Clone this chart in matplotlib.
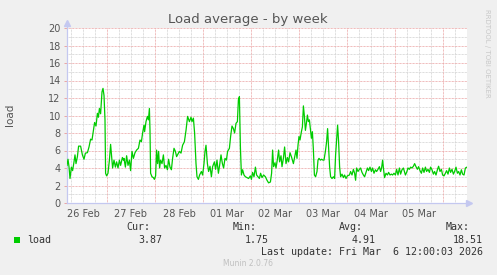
import numpy as np
import matplotlib
matplotlib.use('Agg')
import matplotlib.pyplot as plt
from matplotlib.ticker import FixedLocator, FuncFormatter
from matplotlib.lines import Line2D

# Load average samples: hours since 26 Feb 00:00, load value
hours = [4.0, 4.5, 5.0, 5.5, 6.2, 6.8, 7.5, 8.0, 8.5, 9.2, 9.8, 10.8, 11.7, 12.5, 13.2, 14.2, 15.0, 15.8,
         16.5, 17.2, 17.8, 18.5, 19.2, 19.7, 20.2, 20.8, 21.5, 22.0, 22.5, 23.0, 23.3, 23.8, 24.5, 25.2,
         25.8, 26.3, 26.8, 27.5, 28.2, 28.8, 29.5, 30.2, 30.8, 31.7, 32.2,
         32.5, 33.2, 33.8, 34.5, 35.2, 35.8, 36.5, 37.2, 38.0, 38.8, 39.7, 40.5, 41.2, 41.8, 42.5, 42.8,
         43.5, 44.2, 44.7, 45.2, 45.5, 45.8, 46.5, 47.2, 47.7, 48.3, 48.8, 49.3, 49.8, 50.3, 50.8, 51.5,
         52.2, 52.8, 53.5, 54.2, 54.8, 55.5, 56.2, 56.8, 57.5, 58.2, 58.8, 59.5,
         60.2, 61.0, 61.8, 62.7, 63.5, 64.3, 65.2, 66.0, 66.5, 67.2, 67.8, 68.5, 69.0, 69.7, 70.3, 71.2,
         71.8, 72.5, 73.0, 73.5, 74.2, 74.8, 75.5, 76.2, 76.8, 77.7, 78.3, 79.0, 79.7, 80.3, 81.0, 81.7,
         82.3, 83.0, 83.7, 84.3, 85.2, 85.8, 86.5, 87.2, 87.8, 88.5,
         89.2, 89.7, 90.2, 90.7, 91.2, 91.8, 92.5, 93.2, 94.0, 94.8, 95.7, 96.2, 96.8, 97.5, 98.2, 98.8,
         99.5, 100.2, 100.8, 101.5, 102.3, 103.2, 104.0, 104.8, 105.7, 106.3, 106.8, 107.3, 108.0, 108.5,
         109.2, 109.8, 110.3, 111.0, 111.5, 112.2, 112.8, 113.5, 114.2, 114.8, 115.5, 116.2,
         117.2, 117.8, 118.5, 119.0, 119.5, 120.0, 120.5, 121.2, 121.7, 122.2, 122.7, 123.2, 123.7, 124.2,
         124.7, 125.2, 125.7, 126.2, 126.7, 127.2, 127.7, 128.3, 129.0, 129.5, 130.0, 130.7, 131.3, 132.0,
         132.5, 133.2, 133.8, 134.3, 134.8, 135.3, 135.8, 136.5, 137.2, 137.8, 138.3, 138.8, 139.3, 139.8,
         140.3, 140.8, 141.5, 142.2, 142.8, 143.5, 144.2,
         145.2, 145.8, 146.5, 147.2, 147.8, 148.3, 148.8, 149.5, 150.2, 150.8, 151.5, 152.2, 152.8, 153.5,
         154.2, 154.8, 155.5, 156.2, 156.8, 157.5, 158.2, 158.8, 159.5, 160.2, 160.8, 161.3, 161.8, 162.3,
         162.8, 163.5, 164.2, 164.8, 165.5, 166.2, 166.8, 167.5, 168.2, 168.8, 169.5, 170.2, 170.8, 171.5,
         172.2,
         173.2, 173.8, 174.5, 175.2, 175.8, 176.5, 177.2, 177.8, 178.5, 179.2, 179.8, 180.5, 181.2, 181.8,
         182.5, 183.2, 183.8, 184.5, 185.2, 185.8, 186.5, 187.2, 187.8, 188.5, 189.2, 189.8, 190.5, 191.2,
         191.8, 192.5, 193.2, 193.8, 194.5, 195.2, 195.8, 196.5, 197.2, 197.8, 198.5, 199.2, 199.8, 200.5,
         201.2, 201.8, 202.5, 203.2, 204.0]
load = [4.3, 5.0, 4.15, 2.8, 4.1, 3.7, 4.7, 5.5, 4.5, 5.3, 6.5, 6.5, 5.5, 5.0, 5.7, 5.75, 6.4, 7.3,
        7.2, 8.3, 9.2, 8.8, 10.25, 9.8, 10.8, 10.2, 12.7, 13.1, 12.3, 9.5, 3.4, 3.1, 3.4, 4.9,
        6.7, 5.3, 4.0, 4.9, 4.1, 4.7, 4.0, 4.9, 4.3, 5.2, 4.9,
        5.1, 4.1, 5.4, 4.3, 4.9, 3.7, 5.9, 5.1, 5.75, 6.05, 6.25, 7.2, 7.0, 8.0, 8.9, 8.15,
        9.3, 9.9, 9.5, 10.8, 8.3, 3.4, 3.0, 2.9, 2.7, 3.1, 6.05, 4.5, 5.9, 4.0, 4.9, 4.5,
        5.5, 4.0, 4.3, 3.8, 5.0, 4.1, 3.8, 5.1, 6.25, 5.9, 5.3, 5.6,
        5.9, 5.7, 6.6, 7.0, 8.3, 9.9, 9.3, 9.8, 9.3, 9.7, 8.0, 4.5, 3.0, 2.7, 3.2, 3.6,
        3.2, 4.5, 5.9, 6.6, 4.5, 3.6, 4.2, 3.0, 4.15, 4.7, 3.85, 4.9, 3.4, 4.3, 5.5, 4.5,
        4.0, 5.1, 4.9, 5.9, 6.25, 7.6, 8.8, 8.5, 8.0, 9.1,
        9.3, 11.8, 12.15, 6.4, 3.2, 3.8, 3.2, 3.0, 2.9, 2.8, 3.1, 2.7, 3.5, 3.0, 4.1, 3.2,
        3.0, 2.8, 3.4, 2.9, 3.2, 3.0, 2.6, 2.3, 2.4, 3.4, 6.05, 4.15, 4.6, 4.0,
        5.0, 6.05, 4.7, 5.4, 4.15, 5.1, 6.4, 4.5, 5.2, 4.7, 5.75, 5.3,
        4.5, 5.2, 6.05, 5.1, 6.6, 7.6, 7.2, 8.15, 8.7, 11.1, 9.9, 8.3, 9.1, 10.05,
        9.3, 9.5, 8.5, 7.4, 8.15, 6.05, 3.2, 3.0, 3.6, 4.9, 5.1, 4.9, 5.0, 4.9,
        4.9, 5.9, 7.0, 8.5, 6.4, 4.15, 3.0, 2.8, 3.0, 2.8, 5.5, 7.2, 8.9, 7.0,
        4.15, 3.0, 3.3, 2.9, 3.2, 2.8, 3.1,
        3.2, 3.6, 3.2, 3.85, 3.4, 2.6, 4.0, 3.6, 3.85, 4.0, 3.5, 3.2, 3.0, 3.5,
        4.0, 3.7, 4.1, 3.6, 4.0, 3.4, 3.8, 3.6, 3.85, 4.15, 3.6, 4.0, 4.9, 3.8,
        2.9, 3.4, 3.2, 3.5, 3.2, 3.3, 3.2, 3.4, 3.2, 3.85, 3.2, 4.0, 3.3, 3.8,
        4.0,
        3.2, 3.5, 4.0, 3.85, 4.1, 4.0, 4.2, 4.5, 4.15, 3.85, 4.15, 3.7, 3.4, 4.0,
        3.5, 4.1, 3.6, 3.85, 3.5, 4.1, 3.8, 3.3, 3.6, 3.2, 3.8, 4.2, 3.6, 3.85,
        3.2, 3.1, 3.4, 3.7, 3.3, 4.0, 3.5, 3.85, 3.3, 3.6, 4.1, 3.4, 3.6, 3.2,
        3.8, 3.3, 3.2, 4.0, 4.1]

day_labels = ['26 Feb', '27 Feb', '28 Feb', '01 Mar', '02 Mar', '03 Mar', '04 Mar', '05 Mar']
legend_stats = {'Cur:': '3.87', 'Min:': '1.75', 'Avg:': '4.91', 'Max:': '18.51'}

W, H = 497, 275
bg = '#F0F0F0'
text_col = '#555555'
axis_col = '#C4C8F0'
mgrid = '#EBA5A5'
grid = '#D2D2D2'
green = '#00CC00'

fig = plt.figure(figsize=(W / 100, H / 100), dpi=100, facecolor=bg)
ax = fig.add_axes([67 / W, 72 / H, 400 / W, 175 / H])
ax.set_facecolor('white')

ax.set_xlim(4, 204)
ax.set_ylim(0, 20)

# grid lines
dots = (0, (0.72, 0.72))
for h in np.arange(6, 204, 6):
    if h % 24:
        ax.axvline(h, color=grid, lw=0.72, ls=dots, zorder=0)
for h in np.arange(24, 204, 24):
    ax.axvline(h, color=mgrid, lw=0.72, ls=dots, zorder=1)
for v in range(1, 21, 2):
    ax.axhline(v, color=grid, lw=0.72, ls=dots, zorder=0)
for v in range(2, 21, 2):
    ax.axhline(v, color=mgrid, lw=0.72, ls=dots, zorder=1)

ax.plot(hours, load, color=green, lw=0.9, zorder=3)

for s in ['top', 'right']:
    ax.spines[s].set_visible(False)
for s in ['left', 'bottom']:
    ax.spines[s].set_color(axis_col)
    ax.spines[s].set_linewidth(0.9)

# axis arrows
fig.add_artist(Line2D([67 / W, 67 / W], [1 - 28 / H, 1 - 22 / H], color=axis_col, lw=0.9))
fig.add_artist(Line2D([67 / W], [1 - 23 / H], marker='^', ms=4, color=axis_col, mec=axis_col))
fig.add_artist(Line2D([467 / W, 470 / W], [72 / H, 72 / H], color=axis_col, lw=0.9))
fig.add_artist(Line2D([469 / W], [72 / H], marker='>', ms=4, color=axis_col, mec=axis_col))

ax.set_yticks(range(0, 21, 2))
ax.tick_params(axis='y', length=2, width=0.7, color=mgrid, pad=2.5, labelsize=7, labelcolor=text_col)

ax.xaxis.set_major_locator(FixedLocator(np.arange(12, 204, 24)))
ax.xaxis.set_major_formatter(FuncFormatter(lambda h, pos: day_labels[int(h // 24)]))
ax.tick_params(axis='x', length=0, pad=4, labelsize=7, labelcolor=text_col)

fig.text(248 / W, 1 - 19 / H, 'Load average - by week', ha='center', va='center', fontsize=9.5, color=text_col)
fig.text(10 / W, 1 - 115 / H, 'load', ha='center', va='center', rotation=90, fontsize=7.5, color=text_col)
fig.text(487 / W, 1 - 53 / H, 'RRDTOOL / TOBI OETIKER', ha='center', va='center', rotation=-90,
         fontsize=5, color='#C8C8C8')

# legend
mono = 'DejaVu Sans Mono'
fig.patches.append(plt.Rectangle((14 / W, 1 - 243 / H), 6 / W, 6 / H, transform=fig.transFigure,
                                 facecolor=green, edgecolor='none'))
fig.text(27 / W, 1 - 240 / H, 'load', ha='left', va='center', fontsize=7.2, family=mono, color='#333333')
head_x = [150, 257, 363, 470]
val_x = [162, 269, 376, 483]
for (k, v), hx, vx in zip(legend_stats.items(), head_x, val_x):
    fig.text(hx / W, 1 - 227 / H, k, ha='right', va='center', fontsize=7.2, family=mono, color='#333333')
    fig.text(vx / W, 1 - 240 / H, v, ha='right', va='center', fontsize=7.2, family=mono, color='#333333')
fig.text(483 / W, 1 - 252 / H, 'Last update: Fri Mar  6 12:00:03 2026', ha='right', va='center',
         fontsize=7.2, family=mono, color='#333333')
fig.text(248 / W, 1 - 264 / H, 'Munin 2.0.76', ha='center', va='center', fontsize=5.5, color='#C0C0C0')

fig.savefig('out.png', dpi=100, facecolor=bg)
